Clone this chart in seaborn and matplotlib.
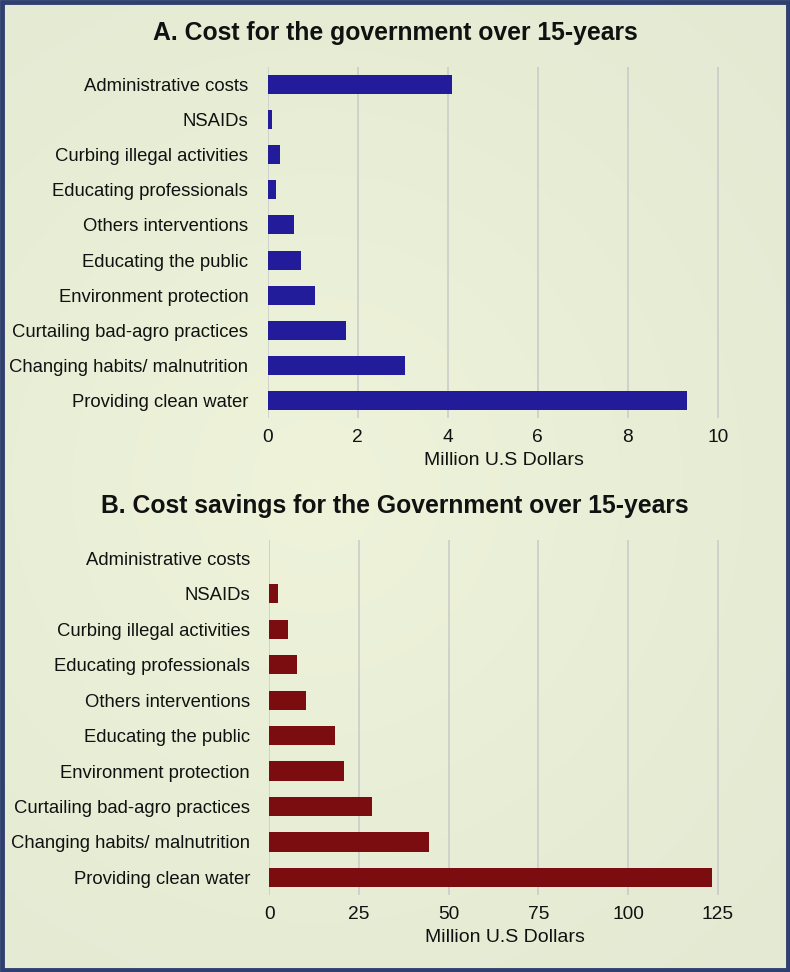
import matplotlib
matplotlib.use('Agg')
import matplotlib.pyplot as plt
import seaborn as sns
import numpy as np
import pandas as pd
from matplotlib.patches import Rectangle

# Data
categories = ['Administrative costs', 'NSAIDs', 'Curbing illegal activities',
              'Educating professionals', 'Others interventions', 'Educating the public',
              'Environment protection', 'Curtailing bad-agro practices',
              'Changing habits/ malnutrition', 'Providing clean water']
cost_values = [4.10, 0.09, 0.26, 0.19, 0.58, 0.73, 1.05, 1.73, 3.04, 9.31]
savings_values = [0.0, 2.5, 5.2, 7.8, 10.3, 18.3, 20.9, 28.7, 44.6, 123.4]
cost_ticks = [0, 2, 4, 6, 8, 10]
savings_ticks = [0, 25, 50, 75, 100, 125]

bg = '#e7edd6'
sns.set_theme(style='whitegrid')
plt.rcParams['font.family'] = ['Liberation Sans', 'DejaVu Sans']

fig = plt.figure(figsize=(7.9, 9.72), dpi=100, facecolor=bg)

# soft background gradient (lighter towards the middle-left)
bg_ax = fig.add_axes([0, 0, 1, 1], zorder=-10)
yy, xx = np.mgrid[0:1:200j, 0:1:200j]
r = np.sqrt((xx - 0.4) ** 2 + ((yy - 0.5) * 1.2) ** 2)
cmap = matplotlib.colors.LinearSegmentedColormap.from_list('bgc', ['#eef3da', '#e3e9d2'])
bg_ax.imshow(r, cmap=cmap, aspect='auto', extent=[0, 1, 0, 1], interpolation='bilinear')
bg_ax.axis('off')

df_a = pd.DataFrame({'cat': categories, 'val': cost_values})
df_b = pd.DataFrame({'cat': categories, 'val': savings_values})


def draw(ax, df, color, ticks, xmax):
    sns.barplot(data=df, y='cat', x='val', orient='h', color=color,
                width=0.54, saturation=1, ax=ax, linewidth=0)
    ax.set_facecolor('none')
    ax.set_xlim(0, xmax)
    ax.set_ylim(9.5, -0.5)
    ax.set_xticks(ticks)
    ax.grid(axis='x', color='#c9c9c9', linewidth=1.1)
    ax.grid(axis='y', visible=False)
    for s in ax.spines.values():
        s.set_visible(False)
    ax.tick_params(axis='y', length=0, pad=14, labelsize=13.3, labelcolor='#111111')
    ax.tick_params(axis='x', length=0, pad=8, labelsize=13.8, labelcolor='#111111')
    ax.set_ylabel('')
    ax.set_xlabel('Million U.S Dollars', fontsize=14, color='#111111', labelpad=4)


ax1 = fig.add_axes([0.339, 0.570, 0.598, 0.361])
draw(ax1, df_a, '#221c9a', cost_ticks, 10.5)

ax2 = fig.add_axes([0.341, 0.079, 0.596, 0.365])
draw(ax2, df_b, '#7b0c10', savings_ticks, 131.3)

fig.text(0.5, 0.966, 'A. Cost for the government over 15-years', ha='center', va='center',
         fontsize=17.8, fontweight='bold', color='#111111')
fig.text(0.5, 0.479, 'B. Cost savings for the Government over 15-years', ha='center', va='center',
         fontsize=17.8, fontweight='bold', color='#111111')

# border
fig.patches.append(Rectangle((0.002, 0.002), 0.996, 0.996, transform=fig.transFigure,
                             fill=False, edgecolor='#2f3f6f', linewidth=3.5))

fig.savefig('out.png', dpi=100, facecolor=bg)
